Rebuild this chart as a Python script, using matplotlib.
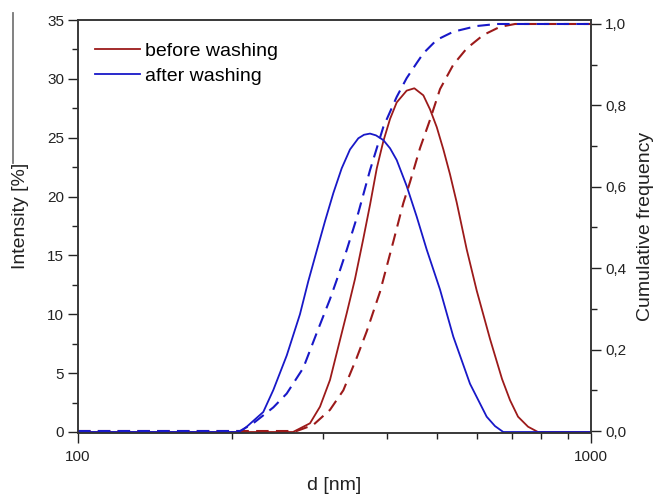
import matplotlib.pyplot as plt
from matplotlib.lines import Line2D
from matplotlib.ticker import MultipleLocator, FuncFormatter, FixedLocator, NullFormatter

plt.rcParams['font.family'] = ['Liberation Sans', 'DejaVu Sans']

# intensity distributions (d in nm, intensity in %)
d_before = [100, 262.5, 283.3, 296.3, 309.9, 321.7, 334.1, 346.7, 359.8, 370.9, 382.3,
            393.7, 405.8, 418.1, 437.2, 452.5, 471.2, 485.6, 500.4, 515.5, 531.0,
            547.3, 572.5, 598.8, 635.6, 670.8, 695.3, 720.7, 753.8, 788.2, 1000]
int_before = [0, 0, 0.74, 2.15, 4.42, 7.25, 10.1, 13.0, 16.4, 19.3, 22.4,
              24.7, 26.6, 28.0, 29.0, 29.2, 28.6, 27.4, 25.9, 24.0, 21.9,
              19.5, 15.5, 12.0, 7.9, 4.5, 2.7, 1.3, 0.45, 0, 0]

d_after = [100, 207, 213.3, 229.7, 240.3, 255.2, 270.8, 281.1, 292.0, 303.0, 314.6,
           326.6, 339.0, 351.9, 361.0, 370.9, 380.9, 393.7, 405.8, 418.1, 437.2,
           457.3, 478.3, 507.8, 539.0, 580.9, 626.1, 650.0, 674.5, 1000]
int_after = [0, 0, 0.45, 1.7, 3.57, 6.5, 10.0, 12.8, 15.4, 17.9, 20.3,
             22.4, 24.0, 24.95, 25.25, 25.35, 25.2, 24.8, 24.1, 23.1, 20.9,
             18.3, 15.5, 12.1, 8.1, 4.1, 1.3, 0.5, 0, 0]

# cumulative frequency
dc_before = [100, 266.9, 287.5, 309.9, 329.0, 349.4, 365.5, 387.9, 411.7, 430.7,
             443.9, 464.2, 485.6, 507.8, 539.0, 572.5, 616.7, 664.6, 711.1, 1000]
cum_before = [0, 0, 0.015, 0.052, 0.10, 0.18, 0.245, 0.342, 0.465, 0.560,
              0.612, 0.695, 0.765, 0.840, 0.900, 0.940, 0.973, 0.993, 1.0, 1.0]

dc_after = [100, 207, 219.6, 240.3, 255.2, 266.9, 274.9, 292.0, 309.9, 319.4, 334.1,
            351.9, 370.9, 393.7, 418.1, 437.2, 457.3, 471.2, 500.4, 539.0, 598.8,
            655.0, 1000]
cum_after = [0, 0, 0.019, 0.058, 0.092, 0.13, 0.155, 0.241, 0.324, 0.371, 0.445,
             0.536, 0.641, 0.747, 0.821, 0.867, 0.904, 0.928, 0.961, 0.981, 0.995,
             1.0, 1.0]

red = '#9c1a1a'
blue = '#1818c8'
ink = '#222222'

fig = plt.figure(figsize=(6.57, 4.97), dpi=100)
ax = fig.add_axes([78 / 657, 64 / 497, 513 / 657, 413 / 497])
ax2 = ax.twinx()

ax.plot(d_before, int_before, color=red, lw=1.3, label='before washing')
ax.plot(d_after, int_after, color=blue, lw=1.3, label='after washing')
ax2.plot(dc_before, cum_before, color=red, lw=1.5, ls=(0, (6, 3.5)))
ax2.plot(dc_after, cum_after, color=blue, lw=1.5, ls=(0, (6, 3.5)))

ax.set_xscale('log')
ax.set_xlim(100, 1000)
ax.set_ylim(-0.085, 35)
ax2.set_ylim(-0.0049, 1.0098)

ax.xaxis.set_major_locator(FixedLocator([100, 1000]))
ax.xaxis.set_major_formatter(FuncFormatter(lambda v, p: f'{v:.0f}'))
ax.xaxis.set_minor_locator(FixedLocator([200, 300, 400, 500, 600, 700, 800, 900]))
ax.xaxis.set_minor_formatter(NullFormatter())

ax.yaxis.set_major_locator(MultipleLocator(5))
ax.yaxis.set_minor_locator(MultipleLocator(2.5))
ax2.yaxis.set_major_locator(MultipleLocator(0.2))
ax2.yaxis.set_minor_locator(MultipleLocator(0.1))
ax2.yaxis.set_major_formatter(FuncFormatter(lambda v, p: f'{v:.1f}'.replace('.', ',')))

for a in (ax, ax2):
    a.tick_params(which='major', direction='out', length=7, width=1.0,
                  colors=ink, labelsize=11, pad=3)
    a.tick_params(which='minor', direction='out', length=4, width=1.0, colors=ink)
    for s in a.spines.values():
        s.set_color('#333333')
        s.set_linewidth(1.1)
ax.tick_params(axis='x', which='major', pad=5)

ax.set_xlabel('d [nm]', fontsize=14, color=ink)
ax.xaxis.set_label_coords(0.5, -0.106)
ax.set_ylabel('Intensity [%]', fontsize=14, color=ink)
ax.yaxis.set_label_coords(-0.095, 0.525)
ax2.set_ylabel('Cumulative frequency', fontsize=14, color=ink)
ax2.yaxis.set_label_coords(1.089, 0.5)

ax.legend(loc='upper left', bbox_to_anchor=(0.033, 0.946), frameon=False,
          fontsize=14, handlelength=2.3, handletextpad=0.3, labelspacing=0.36,
          borderaxespad=0, borderpad=0)

# thin grey rule at the far left edge
fig.add_artist(Line2D([13 / 657, 13 / 657], [1 - 13 / 497, 1 - 163 / 497],
                      color='#777777', lw=1.3))

fig.savefig('out.png', dpi=100)
